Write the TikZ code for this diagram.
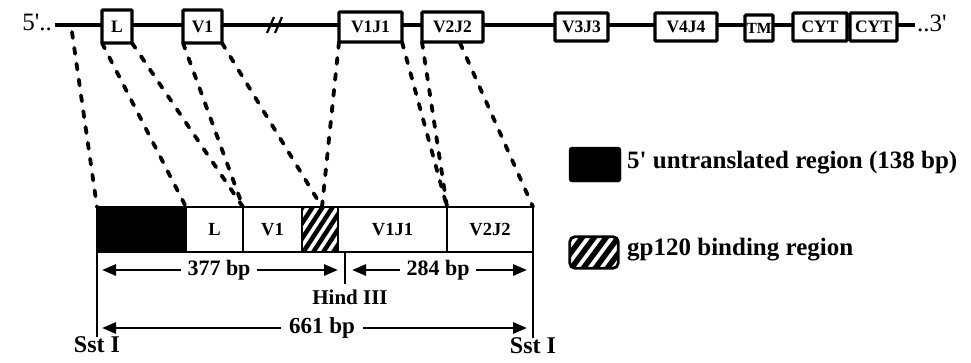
\documentclass[tikz,border=0pt]{standalone}
\usepackage{fontspec}
\setmainfont{Liberation Serif}
\usetikzlibrary{arrows.meta,calc}
\begin{document}
\begin{tikzpicture}[x=1pt,y=-1pt,
  gene/.style={draw,line width=3.2pt,fill=white,inner sep=0pt,outer sep=0pt,
    font=\fontsize{17.5}{17.5}\selectfont\bfseries,rounded corners=1pt},
  seg/.style={draw,line width=2.6pt,inner sep=0pt,outer sep=0pt,minimum height=45pt,
    font=\fontsize{18.5}{18.5}\selectfont\bfseries},
  conn/.style={line width=3.8pt,dash pattern=on 6pt off 10pt,line cap=round},
  dim/.style={line width=2.8pt,-{Triangle[length=14pt,width=11pt]}},
  lab/.style={font=\fontsize{22}{22}\selectfont\bfseries,inner sep=6pt},
  endlab/.style={font=\fontsize{24}{24}\selectfont\bfseries,inner sep=0pt},
  legtext/.style={anchor=west,font=\fontsize{25}{25}\selectfont\bfseries,inner sep=0pt},
  stripe/.style={line width=4.5pt},
  ]
\useasboundingbox (0,0) rectangle (971,362);

% ---------- top gene line ----------
\node[anchor=east,font=\fontsize{25}{25}\selectfont,inner sep=0pt] (p5) at (52,22) {5\textquotesingle..};
\node[anchor=west,font=\fontsize{25}{25}\selectfont,inner sep=0pt] (p3) at (917,23) {..3\textquotesingle};
\coordinate (ls) at (55,25);
\coordinate (le) at (915,25);
\draw[line width=4.5pt] (ls) -- (le);
\draw[line width=2.2pt] (267,33) -- (274,17) (275,33) -- (282,17);

\node[gene,minimum width=30pt,minimum height=33pt] (L) at (117,26.5) {L};
\node[gene,minimum width=39pt,minimum height=33pt] (V1) at (202.5,26.5) {V1};
\node[gene,minimum width=63pt,minimum height=30pt] (V1J1) at (370.5,27) {V1J1};
\node[gene,minimum width=61pt,minimum height=30pt] (V2J2) at (452.5,27) {V2J2};
\node[gene,minimum width=53pt,minimum height=28pt] (V3J3) at (581.5,27) {V3J3};
\node[gene,minimum width=62pt,minimum height=28pt] (V4J4) at (686,27) {V4J4};
\node[gene,minimum width=28pt,minimum height=26pt,font=\fontsize{15.5}{15.5}\selectfont\bfseries] (TM) at (759,28) {TM};
\node[gene,minimum width=54pt,minimum height=28pt] (CYT1) at (820,27) {CYT};
\node[gene,minimum width=47pt,minimum height=28pt] (CYT2) at (873.5,27) {CYT};

% ---------- expanded bar ----------
\node[seg,fill=black,minimum width=89pt] (blk) at (141.5,229.5) {};
\node[seg,minimum width=57pt] (Lb) at (214.5,229.5) {L};
\node[seg,minimum width=59pt] (V1b) at (272.5,229.5) {V1};
\node[seg,minimum width=36pt] (hb) at (320,229.5) {};
\node[seg,minimum width=109pt] (V1J1b) at (392.5,229.5) {V1J1};
\node[seg,minimum width=86pt] (V2J2b) at (490,229.5) {V2J2};

\begin{scope}
  \clip (hb.south west) rectangle (hb.north east);
  \foreach \i in {-60,-50,...,40}
    \draw[stripe] (302+\i,254) -- ++(32,-49);
\end{scope}
\draw[line width=2.6pt] (hb.south west) rectangle (hb.north east);

% ---------- dashed connectors ----------
\coordinate (d0) at (72,32);
\coordinate (hm) at (322,207);
\coordinate (v2t) at (460,43);
\draw[conn] (d0) -- (blk.north west);
\draw[conn] (L.south west) -- (blk.north east);
\draw[conn] (L.south east) -- (Lb.north east);
\draw[conn] (V1.south west) -- (Lb.north east);
\draw[conn] (V1.south east) -- (hm);
\draw[conn] (V1J1.south west) -- (hm);
\draw[conn] (V1J1.south east) -- (V1J1b.north east);
\draw[conn] (V2J2.south west) -- (V1J1b.north east);
\draw[conn] (v2t) -- (V2J2b.north east);

% ---------- restriction sites ----------
\node[endlab] (sstL) at (97,345) {Sst I};
\node[endlab] (sstR) at (533,346) {Sst I};
\draw[line width=2.8pt] (blk.south west) -- (sstL.north);
\draw[line width=2.8pt] (V2J2b.south east) -- (sstR.north);
\coordinate (hdt) at (345,252);
\coordinate (hdb) at (345,284);
\draw[line width=2.8pt] (hdt) -- (hdb);
\node[font=\fontsize{21}{21}\selectfont\bfseries,inner sep=0pt] (hind) at (350,297) {Hind III};

% ---------- dimension arrows ----------
\node[lab] (t377) at (219,270) {377 bp};
\coordinate (a377l) at (102,270);
\coordinate (a377r) at (338,270);
\draw[dim] (t377.west) -- (a377l);
\draw[dim] (t377.east) -- (a377r);

\node[lab] (t284) at (438,270) {284 bp};
\coordinate (a284l) at (352,270);
\coordinate (a284r) at (527,270);
\draw[dim] (t284.west) -- (a284l);
\draw[dim] (t284.east) -- (a284r);

\node[lab,font=\fontsize{23}{23}\selectfont\bfseries,inner sep=8pt] (t661) at (322,328) {661 bp};
\coordinate (a661l) at (102,328);
\coordinate (a661r) at (527,328);
\draw[dim] (t661.west) -- (a661l);
\draw[dim] (t661.east) -- (a661r);

% ---------- legend ----------
\node[draw=black,fill=black,rounded corners=3pt,minimum width=52pt,minimum height=35pt,inner sep=0pt] (lg1) at (595,164.5) {};
\node[legtext] (lt1) at (627,163) {5\textquotesingle{} untranslated region (138 bp)};

\node[minimum width=48pt,minimum height=31pt,inner sep=0pt] (lg2) at (594,252.5) {};
\begin{scope}
  \clip[rounded corners=5pt] (lg2.south west) rectangle (lg2.north east);
  \foreach \i in {-60,-48,...,48}
    \draw[stripe,line width=5.5pt] (570+\i,270) -- ++(26,-35);
\end{scope}
\draw[line width=2.8pt,rounded corners=5pt] (lg2.south west) rectangle (lg2.north east);
\node[legtext] (lt2) at (627,250) {gp120 binding region};
\end{tikzpicture}
\end{document}
